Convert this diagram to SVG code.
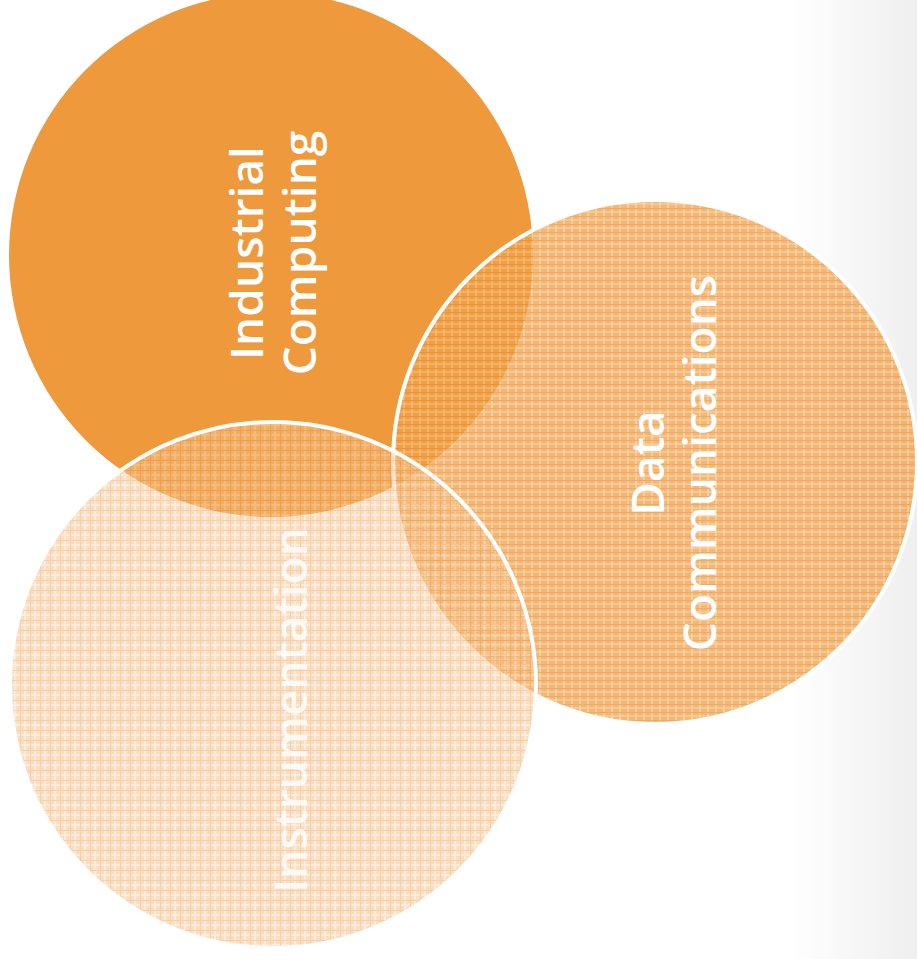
<svg xmlns="http://www.w3.org/2000/svg" width="917" height="959" viewBox="0 0 917 959">
  <defs>
    <linearGradient id="edge" x1="790" y1="0" x2="917" y2="0" gradientUnits="userSpaceOnUse">
      <stop offset="0" stop-color="#ffffff"/>
      <stop offset="1" stop-color="#efefef"/>
    </linearGradient>
    <pattern id="dcPat" width="8" height="8" patternUnits="userSpaceOnUse">
      <rect width="8" height="8" fill="#f2a048"/>
      <path d="M0 4H8M4 0V8" stroke="#f9cf9f" stroke-width="1.2"/>
      <path d="M0 0.5H8" stroke="#ee8f2a" stroke-width="1"/>
    </pattern>
    <pattern id="inPat" width="10" height="10" patternUnits="userSpaceOnUse">
      <rect width="10" height="10" fill="#f6c08a"/>
      <path d="M0 5H10M5 0V10" stroke="#fbe2c8" stroke-width="1.5"/>
      <path d="M0 0.5H10M0.5 0V10" stroke="#f2a452" stroke-width="1"/>
    </pattern>
    <style>
      .lbl { font-family: "Open Sans", "Liberation Sans", sans-serif; font-weight: 600; font-size: 46px; fill: #ffffff; text-anchor: middle; }
      .ring { stroke: #ffffff; stroke-width: 4; }
    </style>
  </defs>
  <rect width="917" height="959" fill="#ffffff"/>
  <rect x="790" y="0" width="127" height="959" fill="url(#edge)"/>

  <g id="industrial-computing">
    <circle cx="271" cy="255" r="262" fill="#ee9a3c"/>
  </g>

  <g id="data-communications">
    <circle cx="655" cy="462" r="262" fill="url(#dcPat)" fill-opacity="0.76" class="ring"/>
  </g>

  <g id="instrumentation">
    <circle cx="273" cy="685" r="263" fill="url(#inPat)" fill-opacity="0.52" class="ring"/>
  </g>

  <g id="labels">
    <text class="lbl" transform="translate(263,253) rotate(-90)">Industrial</text>
    <text class="lbl" transform="translate(316,253) rotate(-90)">Computing</text>
    <text class="lbl" transform="translate(664,463) rotate(-90)">Data</text>
    <text class="lbl" transform="translate(716,463) rotate(-90)">Communications</text>
    <text class="lbl" fill-opacity="0.85" transform="translate(307,710) rotate(-90)">Instrumentation</text>
  </g>

  <g id="connectors"/>
</svg>
